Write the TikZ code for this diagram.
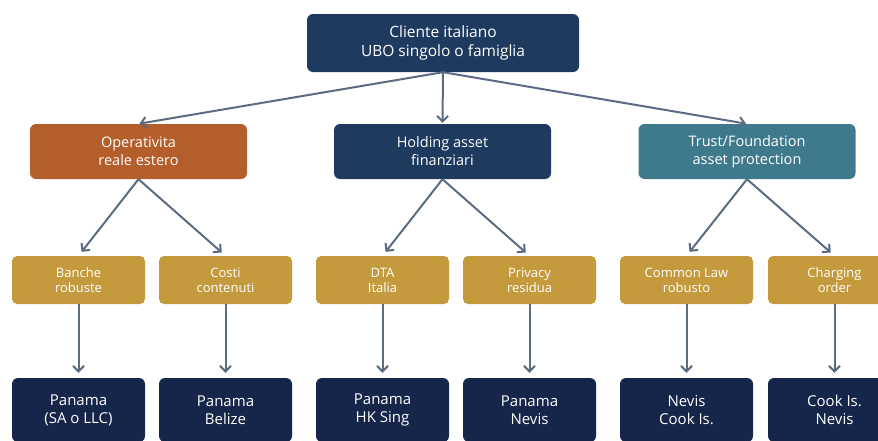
\documentclass[tikz,border=0pt]{standalone}
\usepackage{fontspec}
\setmainfont{Open Sans}
\usepackage{tikz}
\usetikzlibrary{arrows.meta,positioning}
\definecolor{NavyTop}{HTML}{1F3A5F}
\definecolor{RustBox}{HTML}{B35E2B}
\definecolor{TealBox}{HTML}{3F7A8C}
\definecolor{GoldBox}{HTML}{C49A3D}
\definecolor{DeepNavy}{HTML}{15264A}
\definecolor{ArrGrey}{HTML}{5B6B82}

\begin{document}
\begin{tikzpicture}[x=1pt,y=-1pt,
root/.style={fill=NavyTop,text=white,rounded corners=6pt,minimum width=272pt,minimum height=58pt,align=center,font=\fontsize{15.5}{19}\selectfont},
branch/.style={rounded corners=6pt,text=white,minimum width=217pt,minimum height=55pt,align=center,font=\fontsize{14.5}{18}\selectfont},
crit/.style={fill=GoldBox,text=white,rounded corners=5pt,minimum width=133pt,minimum height=48pt,align=center,font=\fontsize{13}{15}\selectfont},
juris/.style={fill=DeepNavy,text=white,rounded corners=6pt,minimum width=133pt,minimum height=64pt,align=center,font=\fontsize{15}{18}\selectfont},
arr/.style={-{Straight Barb[length=5.5pt,width=11pt]},line width=2pt,draw=ArrGrey,shorten >=5pt}
]
\clip (0,0) rectangle (878,440);
\node[root] (cli) at (443,43) {Cliente italiano\\UBO singolo o famiglia};
\node[branch,fill=RustBox] (oper) at (138.5,151.5) {Operativita\\reale estero};
\node[branch,fill=NavyTop] (hold) at (442.5,151.5) {Holding asset\\finanziari};
\node[branch,fill=TealBox] (trust) at (747,151.5) {Trust/Foundation\\asset protection};
\node[crit] (banche) at (78.5,280) {Banche\\robuste};
\node[crit] (costi) at (225.5,280) {Costi\\contenuti};
\node[crit] (dta) at (382.5,280) {DTA\\Italia};
\node[crit] (priv) at (529.5,280) {Privacy\\residua};
\node[crit] (comm) at (686.5,280) {Common Law\\robusto};
\node[crit] (charg) at (834.5,280) {Charging\\order};
\node[juris] (j1) at (78.5,410) {Panama\\(SA o LLC)};
\node[juris] (j2) at (225.5,410) {Panama\\Belize};
\node[juris] (j3) at (382.5,410) {Panama\\HK Sing};
\node[juris] (j4) at (529.5,410) {Panama\\Nevis};
\node[juris] (j5) at (686.5,410) {Nevis\\Cook Is.};
\node[juris] (j6) at (834.5,410) {Cook Is.\\Nevis};
\draw[arr,shorten >=1pt] (cli.south) -- (oper.north);
\draw[arr,shorten >=1pt] (cli.south) -- (hold.north);
\draw[arr,shorten >=1pt] (cli.south) -- (trust.north);
\draw[arr] (oper.south) -- (banche.north);
\draw[arr] (oper.south) -- (costi.north);
\draw[arr] (hold.south) -- (dta.north);
\draw[arr] (hold.south) -- (priv.north);
\draw[arr] (trust.south) -- (comm.north);
\draw[arr] (trust.south) -- (charg.north);
\draw[arr] (banche.south) -- (j1.north);
\draw[arr] (costi.south) -- (j2.north);
\draw[arr] (dta.south) -- (j3.north);
\draw[arr] (priv.south) -- (j4.north);
\draw[arr] (comm.south) -- (j5.north);
\draw[arr] (charg.south) -- (j6.north);
\end{tikzpicture}
\end{document}
